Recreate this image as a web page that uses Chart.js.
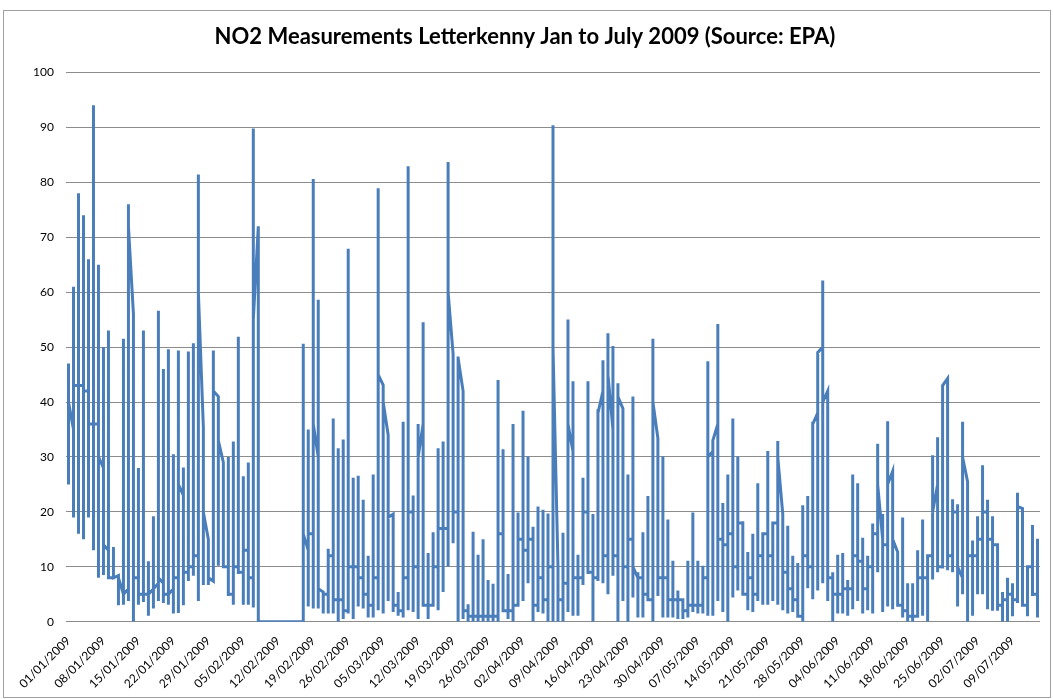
<!DOCTYPE html>
<html lang="en">
<head>
    <meta charset="UTF-8">
    <title>NO2 Measurements Letterkenny</title>
    <script src="https://cdn.jsdelivr.net/npm/chart.js"></script>
    <style>
        body { margin: 0; background: #fff; }
        #wrap { position: relative; width: 1053px; height: 699px; }
        #frame {
            position: absolute; left: 3px; top: 10px; width: 1046px; height: 686px;
            border: 1px solid #a0a0a0; pointer-events: none;
        }
    </style>
</head>
<body>
    <div id="wrap">
        <canvas id="myChart" width="1053" height="699"></canvas>
        <div id="frame"></div>
    </div>

    <script>
        // NO2 readings per day (values in the order the line visits them), one array per month
        const jan = [
            [47, 25, 40], [35, 61, 19, 43], [43, 78, 16, 43], [43, 74, 15, 42], [42, 66, 19, 36],
            [36, 94, 13, 36], [36, 65, 8, 30], [28, 50, 8.5, 14], [13, 53, 12, 8], [8, 13.6, 8],
            [8.4, 3, 8], [5, 51.5, 3.1, 5], [6, 76, 3.8, 72], [56, 0, 8], [8, 28, 3.1, 5],
            [5, 53, 3.6, 5], [5, 11, 1.1, 5], [6, 19.2, 2.4, 6], [7, 56.6, 3.8, 8], [7, 46, 3.4, 5],
            [5, 49.6, 3.1, 5], [6, 30.5, 1.5, 8], [8, 49.4, 1.6, 25], [23, 28.1, 3, 9], [9, 49.2, 7.4, 10],
            [10, 50.7, 8.4, 12], [12, 81.4, 3.8, 60], [35.4, 6.7, 20], [15, 6.7, 8], [7.4, 49.4, 42],
            [41, 10.2, 33]
        ];
        const feb = [
            [29, 11.3, 10], [10, 30, 4.7, 5], [5, 32.8, 3.1, 10], [10, 51.9, 8.7, 9], [9, 26.5, 3.1, 13],
            [13, 29, 3.1, 8], [8, 89.8, 2.6, 55], [72, 0],
            [0], [0], [0], [0], [0], [0], [0], [0],
            [0, 50.6, 16], [13, 35, 2.8, 16], [16, 80.6, 2.4, 36], [30, 58.6, 2.4, 6], [5.4, 1.5, 5],
            [5, 13.3, 1.5, 12], [12, 37, 1.5, 4], [4, 31.6, 0, 4], [4, 33.2, 0.5, 2], [2, 67.9, 1.5, 10],
            [10, 26.2, 0.5, 10], [10, 26.6, 2.8, 8]
        ];
        const mar = [
            [8, 22.2, 2.4, 5], [5, 12, 0.8, 3], [3, 26.8, 0.8, 8], [8, 78.9, 2.1, 45], [43.1, 1.5, 40],
            [34, 3.8, 19], [19.6, 1.8, 3], [3, 5.4, 1.1, 2], [2, 36.4, 0.8, 8], [8, 82.9, 2.1, 20],
            [20, 23, 1.8, 10], [10, 36, 0.5, 30], [36, 54.5, 2.8, 3], [3, 12.5, 0.5, 3], [3, 16.3, 3.4, 10],
            [10, 31.6, 2.1, 17], [17, 32.8, 5.4, 17], [17, 83.7, 10, 60], [48.7, 14.3, 20], [20, 48.3, 0, 48],
            [42, 0.5, 2], [2, 3.2, 0, 1], [1, 16.4, 0, 1], [1, 12.2, 0, 1], [1, 15, 0, 1],
            [1, 7.6, 0, 1], [1, 6.9, 0, 1], [1, 44, 0, 16], [16, 31.4, 2, 2], [2, 8.7, 0.5, 2],
            [2, 36, 0, 3]
        ];
        const apr = [
            [3, 19.9, 4.4, 15], [15, 38.4, 3.8, 13], [13, 30.1, 7, 15], [15, 17.3, 0, 3], [3, 21, 1.8, 8],
            [8, 20.4, 1.5, 4], [4, 19.7, 0, 10], [10, 90.4, 0, 50], [10, 0, 4], [4, 16.2, 0, 7],
            [7, 55, 1.8, 36], [31, 43.8, 1.1, 8], [8, 12.2, 1.1, 8], [8, 26.2, 6.7, 20], [20, 43.8, 8.7, 9],
            [9, 19.6, 0, 8], [8, 38.7, 7.4, 38], [42, 47.6, 7, 12], [12, 52.5, 5, 45], [35, 50.2, 8.4, 12],
            [12, 43.4, 0, 41], [38.8, 3.8, 10], [10, 26.8, 0, 15], [15, 41, 4.4, 10], [8, 9, 0.8, 8],
            [8, 16.3, 0.8, 5], [5, 22.9, 4.7, 4], [4, 51.5, 0, 40], [33.4, 4.7, 8], [8, 30.1, 0.8, 8]
        ];
        const may = [
            [8, 18.6, 0.8, 4], [4, 11.1, 0.8, 4], [4, 5.7, 0.5, 4], [4, 3.4, 0.5, 2], [2, 11.1, 0.8, 3],
            [3, 19.9, 1.8, 3], [3, 11.1, 1.5, 3], [3, 10.2, 1.5, 8], [8, 47.4, 1.1, 30], [31, 31.4, 1.1, 33],
            [36, 54.2, 3.8, 15], [15, 21.6, 1.8, 14], [14, 26.8, 0, 16], [16, 37, 4.4, 10], [10, 30.1, 5.7, 18],
            [18, 18.3, 5.7, 5], [5, 12.7, 2.1, 8], [8, 16, 1.8, 5], [5, 25.2, 3.8, 12], [12, 15.6, 3.1, 16],
            [16, 31.1, 3.1, 12], [12, 16.3, 3.8, 18], [18, 32.9, 3.1, 30], [19.6, 2.1, 9], [9, 17.5, 1.5, 6],
            [6, 12, 1.8, 4], [4, 10.7, 0.8, 1], [1, 21.2, 0, 12], [12, 22.9, 6.1, 10], [10, 36.4, 4.1, 36],
            [38, 49.2, 5.7, 49]
        ];
        const jun = [
            [50, 62.1, 7, 40], [42, 3.8, 8], [8, 9, 0, 5], [5, 12.2, 1.5, 5], [5, 12.5, 1.5, 6],
            [6, 7.6, 1.1, 6], [6, 26.8, 2.3, 12], [12, 25.2, 3.8, 11], [11, 15.3, 1.5, 6], [6, 12, 2.1, 10],
            [10, 17.9, 1.5, 16], [16, 32.4, 9, 25], [15, 19.6, 1.8, 14], [14, 36.5, 2.8, 25], [27.4, 2.3, 15],
            [12.7, 2.8, 3], [3, 19, 0.8, 2], [2, 7, 0, 1], [1, 7, 0, 1], [1, 13, 1, 8],
            [8, 18.6, 1.1, 8], [8, 12, 0, 12], [12, 30.3, 7.7, 20], [25, 33.6, 9, 10], [10, 43, 9.7, 43],
            [44.3, 9.4, 12], [12, 22.3, 9, 20], [20, 21.4, 2.8, 10], [8, 36.4, 5, 30], [25.5, 0, 12]
        ];
        const jul = [
            [12, 14.8, 1.1, 12], [12, 19.2, 5, 15], [15, 28.5, 5, 20], [20, 22.2, 2.3, 15], [15, 19.2, 2, 14],
            [14, 2, 3], [3, 5.4, 0, 4], [4, 8, 0, 5], [5, 7, 1, 4], [4, 23.5, 3.4, 21],
            [20.6, 3.4, 3], [3, 9.7, 1, 10], [10, 17.6, 4.7, 5], [5, 15.1, 0.8, 1]
        ];

        // x axis labels, one every 7 days starting 1 Jan
        const tickDays = [0, 7, 14, 21, 28, 35, 42, 49, 56, 63, 70, 77, 84, 91, 98, 105, 112, 119, 126, 133, 140, 147, 154, 161, 168, 175, 182, 189];
        const tickLabels = ['01/01/2009', '08/01/2009', '15/01/2009', '22/01/2009', '29/01/2009', '05/02/2009', '12/02/2009',
            '19/02/2009', '26/02/2009', '05/03/2009', '12/03/2009', '19/03/2009', '26/03/2009', '02/04/2009',
            '09/04/2009', '16/04/2009', '23/04/2009', '30/04/2009', '07/05/2009', '14/05/2009', '21/05/2009',
            '28/05/2009', '04/06/2009', '11/06/2009', '18/06/2009', '25/06/2009', '02/07/2009', '09/07/2009'];

        // all readings of one day share the same x (day number), like Excel's date axis
        const points = [];
        let day = 0;
        [jan, feb, mar, apr, may, jun, jul].forEach(month => {
            month.forEach(readings => {
                readings.forEach(v => points.push({ x: day, y: v }));
                day++;
            });
        });

        const tickFont = { family: 'Lato', size: 12 };

        const ctx = document.getElementById('myChart').getContext('2d');
        new Chart(ctx, {
            type: 'line',
            data: {
                datasets: [{
                    label: 'NO2',
                    data: points,
                    borderColor: '#4a7ebb',
                    borderWidth: 3,
                    pointRadius: 0,
                    tension: 0,
                    fill: false
                }]
            },
            options: {
                responsive: false,
                animation: false,
                layout: { padding: { left: 10, right: 13, top: 0, bottom: 4 } },
                plugins: {
                    legend: { display: false },
                    tooltip: { enabled: false },
                    title: {
                        display: true,
                        text: 'NO2 Measurements Letterkenny Jan to July 2009 (Source: EPA)',
                        color: '#000',
                        font: { family: 'Lato', size: 22, weight: 'bold' },
                        padding: { top: 24, bottom: 22 }
                    }
                },
                scales: {
                    x: {
                        type: 'linear',
                        min: -0.5,
                        max: day - 0.5,
                        afterBuildTicks: axis => { axis.ticks = tickDays.map(v => ({ value: v })); },
                        ticks: {
                            autoSkip: false,
                            minRotation: 45,
                            maxRotation: 45,
                            color: '#000',
                            font: tickFont,
                            padding: 4,
                            callback: value => tickLabels[tickDays.indexOf(value)]
                        },
                        grid: { display: false },
                        border: { display: false }
                    },
                    y: {
                        min: 0,
                        max: 100,
                        afterFit: axis => { axis.width = 56; },
                        ticks: { stepSize: 10, color: '#000', font: tickFont, padding: 12 },
                        grid: { color: '#8c8c8c', drawTicks: false },
                        border: { display: false }
                    }
                }
            }
        });
    </script>
</body>
</html>
